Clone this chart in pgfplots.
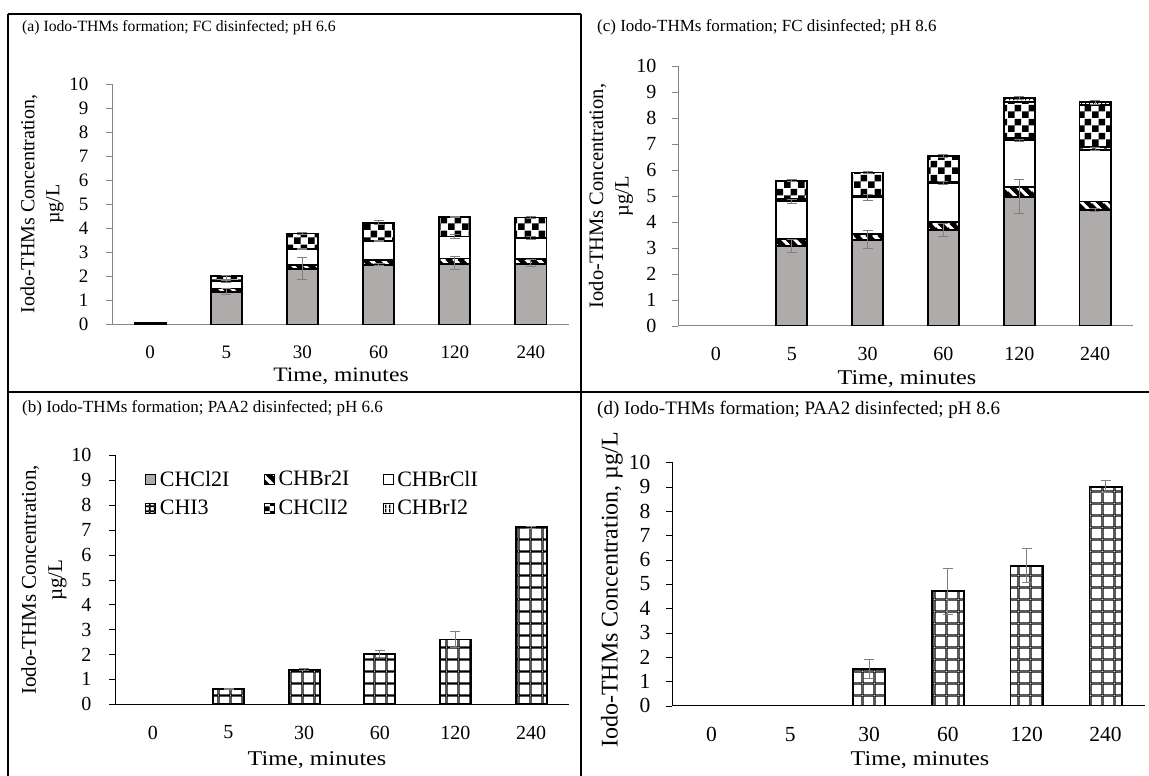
\documentclass[border=0pt]{standalone}
\usepackage{fontspec}
\setmainfont{Liberation Serif}
\newfontfamily\widefont[FakeStretch=1.15]{Liberation Serif}
\usepackage{pgfplots}
\pgfplotsset{compat=1.18}
\usetikzlibrary{patterns}

\definecolor{barGray}{HTML}{AEABAA}
\definecolor{axGray}{HTML}{868686}
\definecolor{errGray}{HTML}{7F7F7F}

% checkerboard
\pgfdeclarepatternformonly{checker}{\pgfqpoint{0pt}{0pt}}{\pgfqpoint{14pt}{14pt}}{\pgfqpoint{14pt}{14pt}}{%
  \pgfpathrectangle{\pgfqpoint{0pt}{0pt}}{\pgfqpoint{7pt}{7pt}}%
  \pgfpathrectangle{\pgfqpoint{7pt}{7pt}}{\pgfqpoint{7pt}{7pt}}%
  \pgfusepath{fill}}
\pgfdeclarepatternformonly{smallchecker}{\pgfqpoint{0pt}{0pt}}{\pgfqpoint{10pt}{10pt}}{\pgfqpoint{10pt}{10pt}}{%
  \pgfpathrectangle{\pgfqpoint{0pt}{0pt}}{\pgfqpoint{5pt}{5pt}}%
  \pgfpathrectangle{\pgfqpoint{5pt}{5pt}}{\pgfqpoint{5pt}{5pt}}%
  \pgfusepath{fill}}
% big grid
\pgfdeclarepatternformonly{biggrid}{\pgfqpoint{0pt}{0pt}}{\pgfqpoint{11.5pt}{11.5pt}}{\pgfqpoint{11.5pt}{11.5pt}}{%
  \pgfsetlinewidth{1.4pt}%
  \pgfpathmoveto{\pgfqpoint{0pt}{0pt}}\pgfpathlineto{\pgfqpoint{11.5pt}{0pt}}%
  \pgfpathmoveto{\pgfqpoint{0pt}{11.5pt}}\pgfpathlineto{\pgfqpoint{11.5pt}{11.5pt}}%
  \pgfpathmoveto{\pgfqpoint{0pt}{0pt}}\pgfpathlineto{\pgfqpoint{0pt}{11.5pt}}%
  \pgfpathmoveto{\pgfqpoint{11.5pt}{0pt}}\pgfpathlineto{\pgfqpoint{11.5pt}{11.5pt}}%
  \pgfusepath{stroke}}
\pgfdeclarepatternformonly{smallgrid}{\pgfqpoint{0pt}{0pt}}{\pgfqpoint{5pt}{5pt}}{\pgfqpoint{5pt}{5pt}}{%
  \pgfsetlinewidth{1.2pt}%
  \pgfpathmoveto{\pgfqpoint{0pt}{0pt}}\pgfpathlineto{\pgfqpoint{5pt}{0pt}}%
  \pgfpathmoveto{\pgfqpoint{0pt}{5pt}}\pgfpathlineto{\pgfqpoint{5pt}{5pt}}%
  \pgfpathmoveto{\pgfqpoint{0pt}{0pt}}\pgfpathlineto{\pgfqpoint{0pt}{5pt}}%
  \pgfpathmoveto{\pgfqpoint{5pt}{0pt}}\pgfpathlineto{\pgfqpoint{5pt}{5pt}}%
  \pgfusepath{stroke}}
% wide diagonal stripes
\pgfdeclarepatternformonly{wideNW}{\pgfqpoint{0pt}{0pt}}{\pgfqpoint{12pt}{12pt}}{\pgfqpoint{12pt}{12pt}}{%
  \pgfsetlinewidth{3.2pt}%
  \pgfpathmoveto{\pgfqpoint{-6pt}{18pt}}\pgfpathlineto{\pgfqpoint{18pt}{-6pt}}%
  \pgfpathmoveto{\pgfqpoint{-6pt}{6pt}}\pgfpathlineto{\pgfqpoint{6pt}{-6pt}}%
  \pgfpathmoveto{\pgfqpoint{6pt}{18pt}}\pgfpathlineto{\pgfqpoint{18pt}{6pt}}%
  \pgfusepath{stroke}}
% vertical lines
\pgfdeclarepatternformonly{vlines}{\pgfqpoint{0pt}{0pt}}{\pgfqpoint{4pt}{4pt}}{\pgfqpoint{4pt}{4pt}}{%
  \pgfsetlinewidth{1.3pt}%
  \pgfpathmoveto{\pgfqpoint{2pt}{0pt}}\pgfpathlineto{\pgfqpoint{2pt}{4pt}}%
  \pgfusepath{stroke}}

\newcommand{\fsz}[1]{\fontsize{#1}{1.25\dimexpr #1pt\relax}\selectfont}

\pgfplotsset{
  s1/.style={fill=barGray, draw=black, line width=1.8pt},
  s2/.style={preaction={fill=black}, pattern=wideNW, pattern color=white, draw=black, line width=1.8pt},
  s3/.style={fill=white, draw=black, line width=1.8pt},
  s4/.style={preaction={fill=white}, pattern=biggrid, pattern color=black, draw=black, line width=1.8pt},
  s5/.style={preaction={fill=white}, pattern=checker, pattern color=black, draw=black, line width=1.8pt},
  s6/.style={preaction={fill=white}, pattern=vlines, pattern color=black, draw=black, line width=1.8pt},
  l1/.style={fill=barGray, draw=black},
  l2/.style={preaction={fill=black}, pattern=wideNW, pattern color=white, draw=black},
  l3/.style={fill=white, draw=black},
  l4/.style={preaction={fill=white}, pattern=smallgrid, pattern color=black, draw=black},
  l5/.style={preaction={fill=white}, pattern=smallchecker, pattern color=black, draw=black},
  l6/.style={preaction={fill=white}, pattern=vlines, pattern color=black, draw=black},
  base/.style={
    scale only axis,
    ymin=0, ymax=10, ytick={0,1,...,10},
    xmin=-0.5, xmax=5.5,
    xtick={0,1,2,3,4,5},
    xticklabels={0,5,30,60,120,240},
    major x tick style={draw=none},
    extra x ticks={-0.5,0.5,1.5,2.5,3.5,4.5,5.5},
    extra x tick labels={},
    extra x tick style={major tick length=6pt},
    axis lines=left,
    axis line style={-},
    tick align=outside,
    major tick length=6pt,
    /pgf/number format/assume math mode=true,
    xticklabel style={yshift=-12pt},
    bar width=0.41,
  },
  errs/.style={
    scale only axis, hide axis,
    ymin=0, ymax=10, xmin=-0.5, xmax=5.5, clip=false,
  },
  eb/.style={draw=none, mark=none,
    error bars/.cd, y dir=both, y explicit,
    error bar style={draw=errGray, solid, line width=0.9pt},
    error mark options={draw=errGray, solid, line width=0.9pt, mark size=5pt, rotate=90}},
  geoA/.style={at={(112pt,451.5pt)}, anchor=south west, width=457pt, height=240.5pt},
  geoC/.style={at={(678pt,450.3pt)}, anchor=south west, width=455pt, height=260pt},
  geoB/.style={at={(115pt,71.7pt)}, anchor=south west, width=454pt, height=249.3pt},
  geoD/.style={at={(672pt,70.3pt)}, anchor=south west, width=473pt, height=243.4pt},
  mylegimg/.style={legend image code/.code={\draw[##1, line width=0.7pt] (0pt,-5pt) rectangle (10pt,5pt);}},
}

\begin{document}
\begin{tikzpicture}[x=1pt,y=1pt]
\path[use as bounding box] (0,0) rectangle (1149,776);

% ---------------- panel (a)
\begin{axis}[base, geoA, ybar stacked, axis line style={draw=axGray}, tick style={draw=axGray},
  tick label style={font=\fsz{19}}, yticklabel style={xshift=-14pt}]
\addplot[s1] coordinates {(0,0.07) (1,1.35) (2,2.31) (3,2.49) (4,2.53) (5,2.52)};
\addplot[s2] coordinates {(0,0) (1,0.15) (2,0.18) (3,0.18) (4,0.21) (5,0.20)};
\addplot[s3] coordinates {(0,0) (1,0.30) (2,0.66) (3,0.80) (4,0.92) (5,0.88)};
\addplot[s5] coordinates {(0,0) (1,0.20) (2,0.63) (3,0.76) (4,0.81) (5,0.85)};
\end{axis}
\begin{axis}[errs, geoA]
\addplot[eb] coordinates {(1,1.38) +- (0,0.12) (2,2.33) +- (0,0.47) (3,2.50) +- (0,0.03) (4,2.56) +- (0,0.27) (5,2.55) +- (0,0.15)};
\addplot[eb] coordinates {(1,1.80) +- (0,0.04) (2,3.15) +- (0,0.03) (3,3.47) +- (0,0.03) (4,3.66) +- (0,0.10) (5,3.60) +- (0,0.05)};
\addplot[eb] coordinates {(1,1.95) +- (0,0.08) (2,3.78) +- (0,0.03) (3,4.23) +- (0,0.08) (4,4.47) +- (0,0.03) (5,4.45) +- (0,0.03)};
\end{axis}

% ---------------- panel (c)
\begin{axis}[base, geoC, ybar stacked, axis line style={draw=axGray}, tick style={draw=axGray},
  tick label style={font=\fsz{20}}, yticklabel style={xshift=-12pt}]
\addplot[s1] coordinates {(1,3.07) (2,3.30) (3,3.68) (4,4.96) (5,4.45)};
\addplot[s2] coordinates {(1,0.25) (2,0.23) (3,0.32) (4,0.36) (5,0.33)};
\addplot[s3] coordinates {(1,1.49) (2,1.41) (3,1.48) (4,1.82) (5,1.98)};
\addplot[s4] coordinates {(1,0.05) (2,0.05) (3,0.06) (4,0.07) (5,0.12)};
\addplot[s5] coordinates {(1,0.72) (2,0.90) (3,1.00) (4,1.39) (5,1.61)};
\addplot[s6] coordinates {(1,0) (2,0) (3,0) (4,0.15) (5,0.10)};
\end{axis}
\begin{axis}[errs, geoC]
\addplot[eb] coordinates {(1,3.08) +- (0,0.25) (2,3.33) +- (0,0.34) (3,3.70) +- (0,0.25) (4,4.98) +- (0,0.66) (5,4.45) +- (0,0.05)};
\addplot[eb] coordinates {(1,4.78) +- (0,0.08) (2,4.94) +- (0,0.12) (3,5.48) +- (0,0.05) (4,7.14) +- (0,0.04) (5,6.80) +- (0,0.05)};
\addplot[eb] coordinates {(1,5.58) +- (0,0.03) (2,5.89) +- (0,0.03) (3,6.54) +- (0,0.05) (4,8.75) +- (0,0.06) (5,8.59) +- (0,0.08)};
\end{axis}

% ---------------- panel (b)
\begin{axis}[base, geoB, ybar stacked, axis line style={draw=black}, tick style={draw=black},
  tick label style={font=\fsz{20}}, yticklabel style={xshift=-14pt},
  mylegimg,
  legend columns=3,
  legend style={at={(axis description cs:0.066,0.945)}, anchor=north west, draw=none, fill=none,
    font=\fsz{22}, row sep=8pt, inner sep=0pt,
    nodes={text width=100pt, align=left, inner xsep=4pt}},
  legend cell align=left]
\addlegendimage{l1}\addlegendentry{CHCl2I}
\addlegendimage{l2}\addlegendentry{CHBr2I}
\addlegendimage{l3}\addlegendentry{CHBrClI}
\addlegendimage{l4}\addlegendentry{CHI3}
\addlegendimage{l5}\addlegendentry{CHClI2}
\addlegendimage{l6}\addlegendentry{CHBrI2}
\addplot[s4, forget plot] coordinates {(1,0.60) (2,1.38) (3,2.01) (4,2.60) (5,7.10)};
\end{axis}
\begin{axis}[errs, geoB]
\addplot[eb] coordinates {(1,0.60) +- (0,0.02) (2,1.38) +- (0,0.04) (3,2.01) +- (0,0.15) (4,2.60) +- (0,0.33) (5,7.10) +- (0,0.04)};
\end{axis}

% ---------------- panel (d)
\begin{axis}[base, geoD, ybar stacked, axis line style={draw=black}, tick style={draw=black},
  tick label style={font=\fsz{21.5}}, yticklabel style={xshift=-12pt}]
\addplot[s4] coordinates {(2,1.51) (3,4.70) (4,5.75) (5,9.00)};
\end{axis}
\begin{axis}[errs, geoD]
\addplot[eb] coordinates {(2,1.51) +- (0,0.40) (3,4.68) +- (0,0.95) (4,5.75) +- (0,0.70) (5,9.00) +- (0,0.25)};
\end{axis}

% ---------------- titles and labels
\node[anchor=west, inner sep=0pt, font=\fsz{15.7}] at (22,748) {(a) Iodo-THMs formation; FC disinfected; pH 6.6};
\node[anchor=west, inner sep=0pt, font=\fsz{17}] at (597,749) {(c) Iodo-THMs formation; FC disinfected; pH 8.6};
\node[anchor=west, inner sep=0pt, font=\fsz{17}] at (22,368) {(b) Iodo-THMs formation; PAA2 disinfected; pH 6.6};
\node[anchor=west, inner sep=0pt, font=\fsz{19}] at (597,366) {(d) Iodo-THMs formation; PAA2 disinfected; pH 8.6};

\node[rotate=90, align=center, font=\fsz{20}] at (42,572) {Iodo-THMs Concentration,\\ µg/L};
\node[rotate=90, align=center, font=\fsz{20.5}] at (611,580) {Iodo-THMs Concentration,\\ µg/L};
\node[rotate=90, align=center, font=\fsz{21}] at (44,196) {Iodo-THMs Concentration,\\ µg/L};
\node[rotate=90, font=\fsz{24}] at (612,186) {Iodo-THMs Concentration, µg/L};

\node[font=\widefont\fsz{20.5}] at (341,400) {Time, minutes};
\node[font=\widefont\fsz{21}] at (907,397) {Time, minutes};
\node[font=\widefont\fsz{21}] at (317,16) {Time, minutes};
\node[font=\widefont\fsz{21}] at (920,16) {Time, minutes};

% ---------------- frames
\draw[line width=1.3pt] (8,762) -- (581,762);
\draw[line width=1.3pt] (8,762) -- (8,0);
\draw[line width=1.3pt] (581,762) -- (581,0);
\draw[line width=1.3pt] (8,384) -- (1149,384);
\end{tikzpicture}
\end{document}
